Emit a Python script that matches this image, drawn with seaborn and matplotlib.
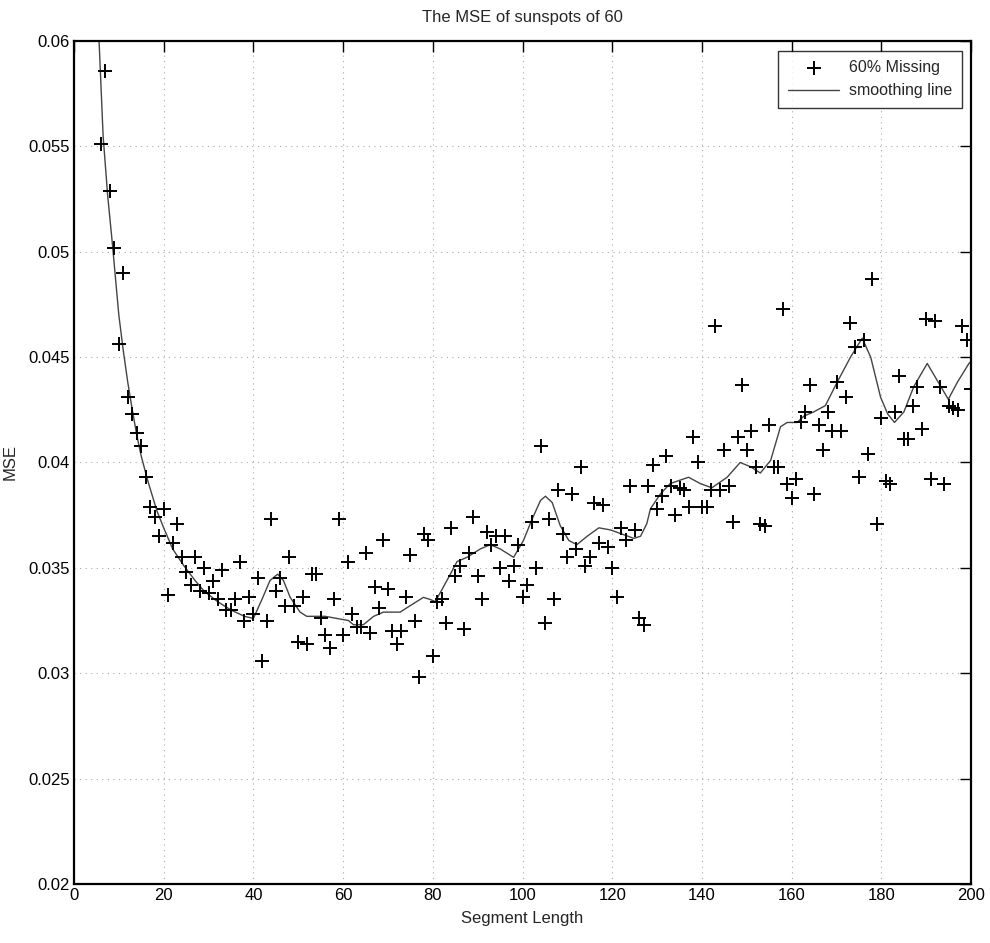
import numpy as np
import pandas as pd
import matplotlib
matplotlib.use("Agg")
import matplotlib.pyplot as plt
import seaborn as sns

# scatter: MSE per segment length (60% missing)
seg_len = list(range(6, 201))
mse = [0.0551, 0.0586, 0.0529, 0.0502, 0.0456, 0.0490, 0.0431, 0.0423, 0.0414, 0.0408,
       0.0393, 0.0379, 0.0374, 0.0365, 0.0378, 0.0337, 0.0362, 0.0371, 0.0355, 0.0348,
       0.0342, 0.0355, 0.0339, 0.0350, 0.0338, 0.0344, 0.0335, 0.0349, 0.0330, 0.0330,
       0.0335, 0.0353, 0.0325, 0.0336, 0.0328, 0.0345, 0.0306, 0.0325, 0.0373, 0.0339,
       0.0345, 0.0332, 0.0355, 0.0332, 0.0315, 0.0336, 0.0314, 0.0347, 0.0347, 0.0326,
       0.0318, 0.0312, 0.0335, 0.0373, 0.0318, 0.0353, 0.0328, 0.0322, 0.0322, 0.0357,
       0.0319, 0.0341, 0.0331, 0.0363, 0.0340, 0.0320, 0.0314, 0.0320, 0.0336, 0.0356,
       0.0325, 0.0298, 0.0366, 0.0363, 0.0308, 0.0334, 0.0335, 0.0324, 0.0369, 0.0346,
       0.0351, 0.0321, 0.0357, 0.0374, 0.0346, 0.0335, 0.0367, 0.0361, 0.0365, 0.0350,
       0.0365, 0.0344, 0.0351, 0.0361, 0.0336, 0.0342, 0.0372, 0.0350, 0.0408, 0.0324,
       0.0373, 0.0335, 0.0387, 0.0366, 0.0355, 0.0385, 0.0359, 0.0398, 0.0351, 0.0355,
       0.0381, 0.0362, 0.0380, 0.0360, 0.0350, 0.0336, 0.0369, 0.0363, 0.0389, 0.0368,
       0.0326, 0.0323, 0.0389, 0.0399, 0.0378, 0.0384, 0.0403, 0.0389, 0.0375, 0.0388,
       0.0387, 0.0379, 0.0412, 0.0400, 0.0379, 0.0379, 0.0387, 0.0465, 0.0387, 0.0406,
       0.0389, 0.0372, 0.0412, 0.0437, 0.0406, 0.0415, 0.0398, 0.0371, 0.0370, 0.0418,
       0.0398, 0.0398, 0.0473, 0.0390, 0.0383, 0.0392, 0.0419, 0.0424, 0.0437, 0.0385,
       0.0418, 0.0406, 0.0424, 0.0415, 0.0438, 0.0415, 0.0431, 0.0466, 0.0455, 0.0393,
       0.0458, 0.0404, 0.0487, 0.0371, 0.0421, 0.0391, 0.0390, 0.0424, 0.0441, 0.0411,
       0.0411, 0.0427, 0.0436, 0.0416, 0.0468, 0.0392, 0.0467, 0.0436, 0.0390, 0.0427,
       0.0426, 0.0425, 0.0465, 0.0458, 0.0435]

# smoothing line
smooth_x = [5.6, 6.5, 7.5, 8.6, 10, 11, 12, 13, 14, 15, 16.5, 18.5, 20, 22, 24.5, 27, 29,
            32, 35, 38, 40, 41.9, 43.7, 45.4, 46.7, 48.2, 50.4, 51.9, 54.1, 56, 58.6,
            61.2, 62.3, 64.5, 66.8, 69, 71.2, 72.7, 74.9, 77.9, 79.4, 80.5, 81.6, 83.9,
            85.4, 87.6, 90.6, 92.8, 95, 98, 100.2, 102.1, 104, 105.1, 106.6, 108.4,
            110.3, 112.1, 114.4, 117, 119.6, 122.2, 124.8, 126.3, 127.7, 128.5, 130.7,
            132.9, 137, 139.6, 142.2, 145.6, 148.5, 150.8, 153, 155.3, 157.5, 159,
            161.2, 162.7, 164.9, 167.5, 170.1, 173.1, 175.7, 177.6, 179.8, 181.4,
            182.9, 185, 187.2, 190.2, 192.4, 194.9, 196.9, 199.5, 200]
smooth_y = [0.0600, 0.0555, 0.0527, 0.0503, 0.0470, 0.0453, 0.0438, 0.0425, 0.0413, 0.0403,
            0.0391, 0.0377, 0.0369, 0.0359, 0.0351, 0.0344, 0.0339, 0.0334, 0.0330,
            0.0327, 0.0326, 0.0335, 0.0344, 0.0347, 0.0344, 0.0336, 0.0329, 0.0327,
            0.0327, 0.0327, 0.0326, 0.0325, 0.0323, 0.0323, 0.0327, 0.0329, 0.0329,
            0.0329, 0.0332, 0.0336, 0.0335, 0.0334, 0.0338, 0.0347, 0.0353, 0.0355,
            0.0359, 0.0361, 0.0359, 0.0355, 0.0363, 0.0373, 0.0382, 0.0384, 0.0381,
            0.0370, 0.0363, 0.0361, 0.0365, 0.0369, 0.0368, 0.0366, 0.0364, 0.0365,
            0.0371, 0.0378, 0.0385, 0.0390, 0.0393, 0.0390, 0.0388, 0.0393, 0.0400,
            0.0398, 0.0395, 0.0401, 0.0417, 0.0419, 0.0419, 0.0422, 0.0424, 0.0427,
            0.0438, 0.0450, 0.0459, 0.0450, 0.0431, 0.0423, 0.0419, 0.0424, 0.0436,
            0.0447, 0.0439, 0.0430, 0.0438, 0.0447, 0.0448]

pts = pd.DataFrame({"Segment Length": seg_len, "MSE": mse})
line = pd.DataFrame({"Segment Length": smooth_x, "MSE": smooth_y})

sns.set_style("white")
plt.rcParams['font.family'] = ['Liberation Sans', 'DejaVu Sans']

fig = plt.figure(figsize=(9.9, 9.43), dpi=100)
ax = fig.add_axes([0.0747, 0.0626, 0.9063, 0.8939])

sns.scatterplot(data=pts, x="Segment Length", y="MSE", marker="+", color="black",
                s=110, linewidth=1.4, ax=ax, label="60% Missing", zorder=3)
sns.lineplot(data=line, x="Segment Length", y="MSE", color="#444444", linewidth=1.0,
             ax=ax, label="smoothing line", zorder=2)

ax.set_xlim(0, 200)
ax.set_ylim(0.02, 0.06)
ax.set_xticks(np.arange(0, 201, 20))
ax.set_yticks([0.02, 0.025, 0.03, 0.035, 0.04, 0.045, 0.05, 0.055, 0.06])
ax.set_yticklabels(["0.02", "0.025", "0.03", "0.035", "0.04", "0.045", "0.05", "0.055", "0.06"])
ax.grid(True, linestyle=(0, (1, 4)), color="#aaaaaa", linewidth=0.8)
ax.tick_params(direction="in", length=8, width=1.0, top=True, right=True,
               labelsize=12, colors="black", pad=3)
for sp in ax.spines.values():
    sp.set_visible(True)
    sp.set_color("black")
    sp.set_linewidth(1.6)

ax.set_xlabel("Segment Length", fontsize=12, labelpad=6)
ax.set_ylabel("MSE", fontsize=12)
ax.yaxis.set_label_coords(-0.063, 0.5)
ax.set_title("The MSE of sunspots of 60", fontsize=12, pad=14)

leg = ax.legend(loc="upper right", fontsize=11.5, frameon=True, fancybox=False,
                borderaxespad=0.6, handlelength=3.2, handletextpad=0.6,
                borderpad=0.6, labelspacing=0.5)
leg.get_frame().set_edgecolor("black")
leg.get_frame().set_linewidth(1.0)

fig.savefig("out.png", dpi=100)
